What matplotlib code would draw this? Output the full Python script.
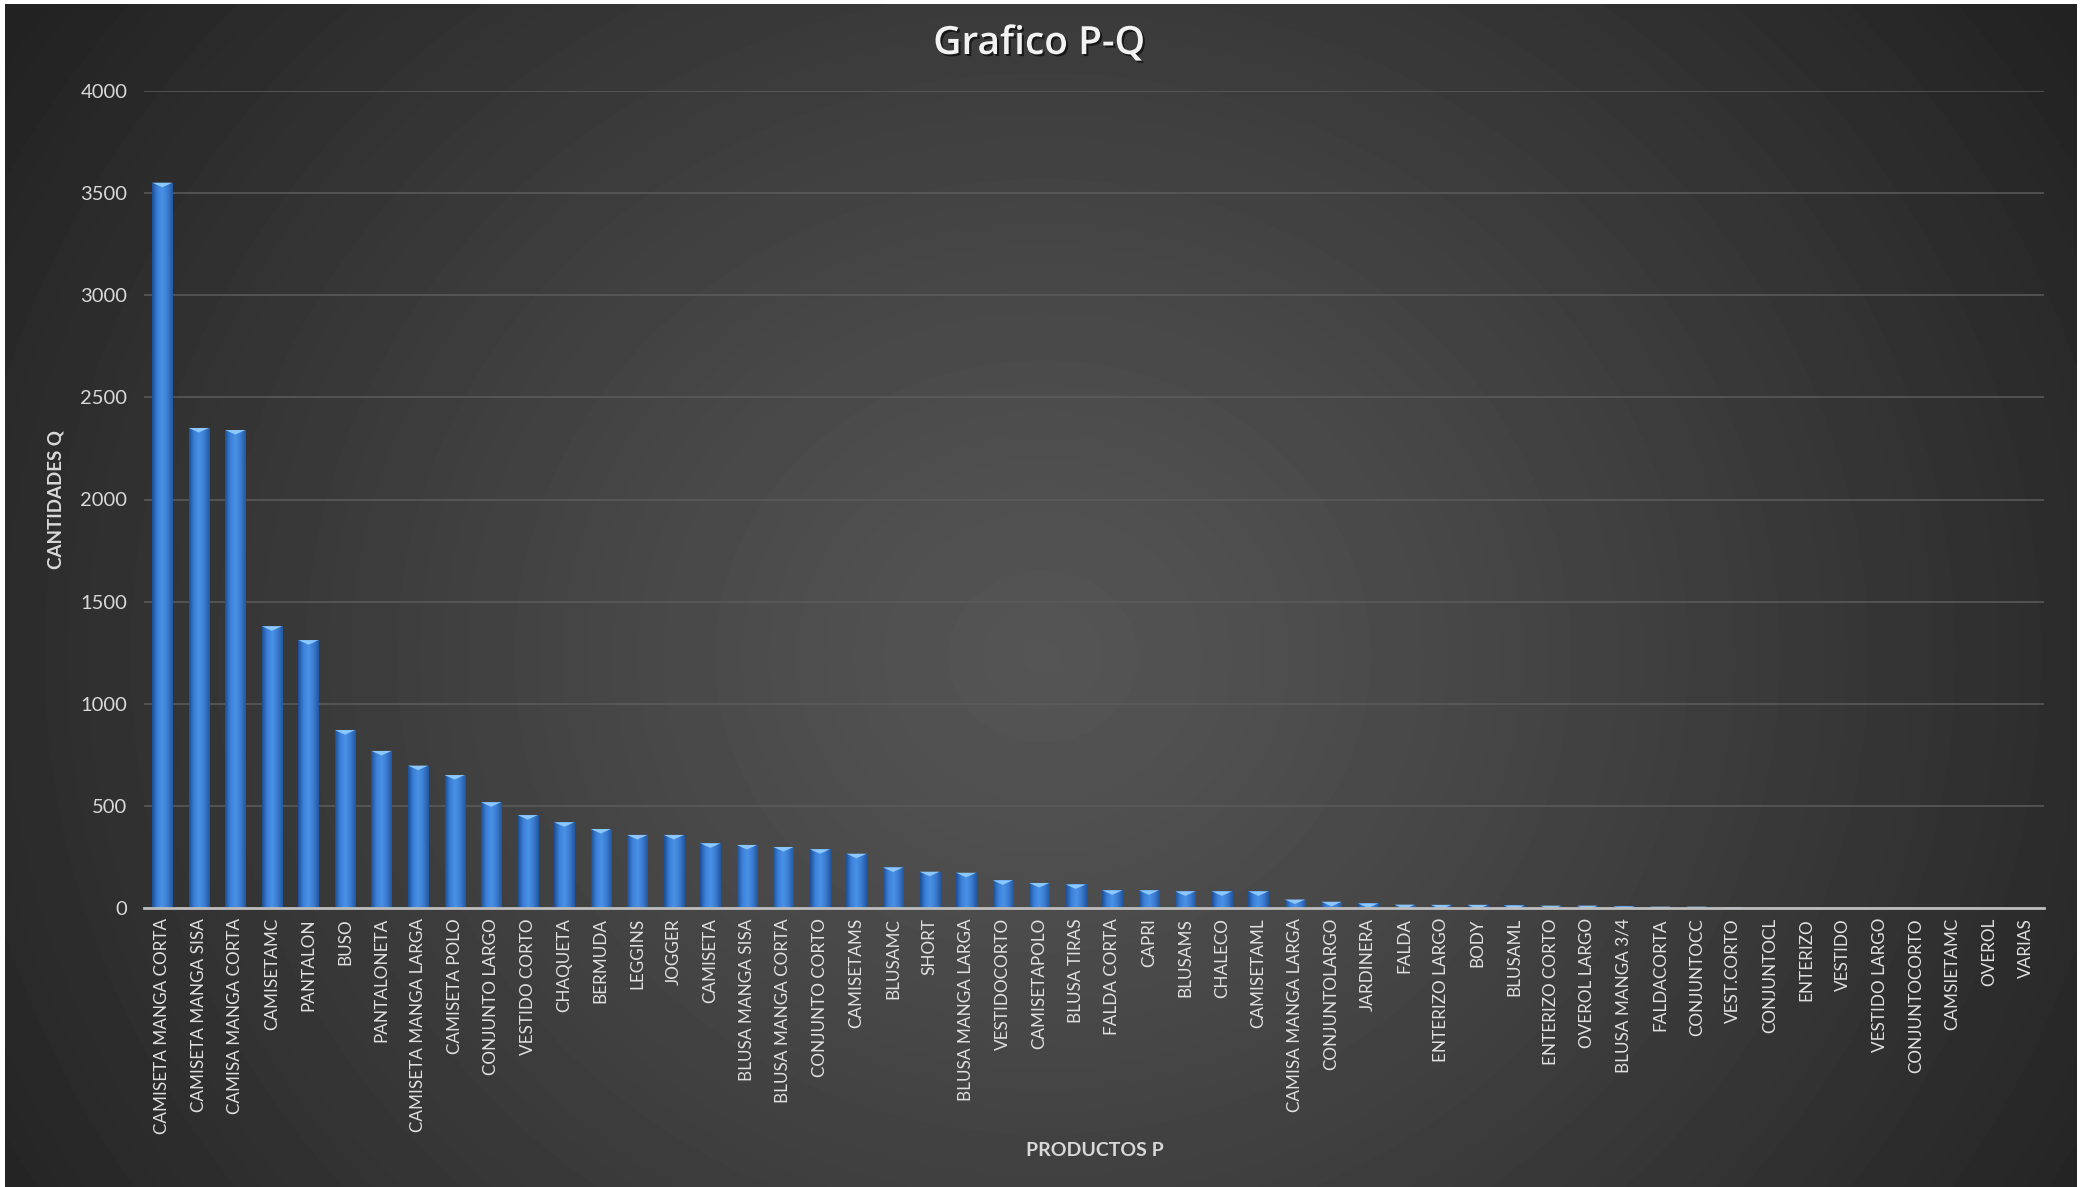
import numpy as np
import matplotlib
matplotlib.use("Agg")
import matplotlib.pyplot as plt
import matplotlib.patheffects as pe
from matplotlib.colors import LinearSegmentedColormap

# ---------------- data ----------------
categories = [
    "CAMISETA MANGA CORTA", "CAMISETA MANGA SISA", "CAMISA MANGA CORTA", "CAMISETAMC",
    "PANTALON", "BUSO", "PANTALONETA", "CAMISETA MANGA LARGA", "CAMISETA POLO",
    "CONJUNTO LARGO", "VESTIDO CORTO", "CHAQUETA", "BERMUDA", "LEGGINS", "JOGGER",
    "CAMISETA", "BLUSA MANGA SISA", "BLUSA MANGA CORTA", "CONJUNTO CORTO", "CAMISETAMS",
    "BLUSAMC", "SHORT", "BLUSA MANGA LARGA", "VESTIDOCORTO", "CAMISETAPOLO",
    "BLUSA TIRAS", "FALDA CORTA", "CAPRI", "BLUSAMS", "CHALECO", "CAMISETAML",
    "CAMISA MANGA LARGA", "CONJUNTOLARGO", "JARDINERA", "FALDA", "ENTERIZO LARGO",
    "BODY", "BLUSAML", "ENTERIZO CORTO", "OVEROL LARGO", "BLUSA MANGA 3/4",
    "FALDACORTA", "CONJUNTOCC", "VEST.CORTO", "CONJUNTOCL", "ENTERIZO", "VESTIDO",
    "VESTIDO LARGO", "CONJUNTOCORTO", "CAMSIETAMC", "OVEROL", "VARIAS",
]
cantidades = [
    3550, 2350, 2340, 1380, 1312, 872, 770, 698, 652,
    519, 456, 421, 388, 359, 359,
    318, 310, 300, 289, 267,
    200, 179, 174, 137, 124,
    117, 88, 88, 83, 83, 83,
    43, 32, 24, 18, 17,
    17, 14, 13, 13, 9,
    8, 8, 6, 2, 1, 1,
    1, 1, 1, 1, 1,
]
yticks = [0, 500, 1000, 1500, 2000, 2500, 3000, 3500, 4000]
title = "Grafico P-Q"
xlabel = "PRODUCTOS P"
ylabel = "CANTIDADES Q"

# ---------------- figure ----------------
W, H = 2085, 1187
DPI = 100
fig = plt.figure(figsize=(W / DPI, H / DPI), dpi=DPI, facecolor="white")

# background radial gradient (chart area)
bg = fig.add_axes([5 / W, 0, (2077 - 5) / W, (1187 - 4) / H])
bg.set_axis_off()
ny, nx = 300, 520
yy, xx = np.mgrid[0:ny, 0:nx]
cx, cy = nx * 0.50, ny * 0.55
r = np.sqrt(((xx - cx) / (nx * 0.60)) ** 2 + ((yy - cy) / (ny * 0.95)) ** 2)
r = np.clip(r, 0, 1)
val = 0x55 - (0x55 - 0x22) * r ** 1.2
bg.imshow(val, cmap="gray", vmin=0, vmax=255, aspect="auto",
          extent=[0, 1, 0, 1], interpolation="bilinear")
bg.set_xlim(0, 1)
bg.set_ylim(0, 1)

# main axes
left, right = 144, 2044
top, bottom = 90.7, 908.3
ax = fig.add_axes([left / W, 1 - bottom / H, (right - left) / W, (bottom - top) / H])
ax.patch.set_alpha(0)

x = np.arange(len(categories))
bw = 0.55
bars = ax.bar(x, cantidades, width=bw, color="#3a7bd0", edgecolor="none", zorder=3)

# cylinder-like shading across each bar
shade = LinearSegmentedColormap.from_list(
    "shade", ["#1d4f95", "#3b80d8", "#4a92e6", "#3a7bd0", "#23589f"])
grad = np.linspace(0, 1, 64).reshape(1, -1)
for b in bars:
    h = b.get_height()
    if h <= 0:
        continue
    im = ax.imshow(grad, cmap=shade, aspect="auto",
                   extent=[b.get_x(), b.get_x() + b.get_width(), 0, h],
                   zorder=4, interpolation="bilinear")
    im.set_clip_path(b)

# light top bevel (downward triangle at the top of each bar)
tri = [(-1, 0), (1, 0), (0, -0.45)]
ax.scatter(x, cantidades, marker=tri, s=14.5 ** 2, color="#8cc8ff",
           edgecolor="none", zorder=5, clip_on=True)

ax.set_xlim(-0.5, len(categories) - 0.5)
ax.set_ylim(0, 4000)
ax.set_yticks(yticks)
ax.set_yticklabels([str(v) for v in yticks])
ax.set_xticks(x)
ax.set_xticklabels(categories, rotation=90)

ax.grid(axis="y", color="#5c5c5c", linewidth=1.1, zorder=0)
ax.set_axisbelow(True)
for s in ["top", "right", "left"]:
    ax.spines[s].set_visible(False)
ax.spines["bottom"].set_color("#bdbdbd")
ax.spines["bottom"].set_linewidth(2.0)
ax.spines["bottom"].set_zorder(6)

ax.tick_params(axis="y", length=0, pad=12, labelsize=14.5, labelcolor="#d9d9d9")
ax.tick_params(axis="x", length=0, pad=7, labelsize=12.3, labelcolor="#e0e0e0")
for lab in ax.get_yticklabels():
    lab.set_fontfamily("Lato")
for lab in ax.get_xticklabels():
    lab.set_fontfamily("Lato")

# texts
fig.text(1039 / W, 1 - 44 / H, title, ha="center", va="center",
         fontsize=28, fontweight="semibold", color="#f2f2f2", family="Open Sans",
         path_effects=[pe.withSimplePatchShadow(offset=(1.5, -1.5),
                                                shadow_rgbFace="black", alpha=0.6)])
fig.text(56 / W, 1 - 499.5 / H, ylabel, ha="center", va="center", rotation=90,
         fontsize=13.5, fontweight="bold", color="#d9d9d9", family="Lato")
fig.text(1095 / W, 1 - 1150 / H, xlabel, ha="center", va="center",
         fontsize=14, fontweight="bold", color="#d9d9d9", family="Lato")

fig.savefig("out.png", dpi=DPI, facecolor="white")
